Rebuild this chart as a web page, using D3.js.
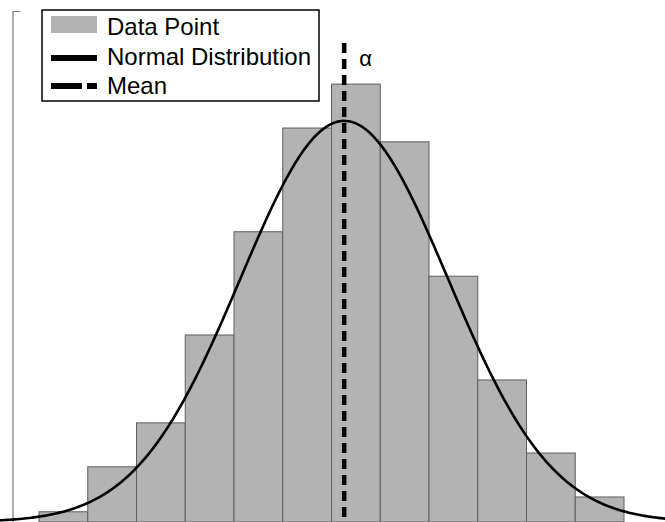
<!DOCTYPE html>
<html>
<head>
<meta charset="utf-8">
<script src="https://cdn.jsdelivr.net/npm/d3@7"></script>
<style>
  html, body { margin: 0; padding: 0; background: #fff; }
  svg { display: block; }
  text { font-family: Arial, "Liberation Sans", sans-serif; }
</style>
</head>
<body>
<svg id="chart" width="665" height="522"></svg>
<script>
// ---- data ----
const binEdges = [-6, -5, -4, -3, -2, -1, 0, 1, 2, 3, 4, 5, 6];
const binCounts = [2, 10.8, 19.4, 36.6, 56.8, 77.1, 85.7, 74.4, 48.1, 27.8, 13.5, 4.9];
const normalMean = 0.26;
const normalSd = 2.13;
const normalPeak = 78.5;
const legendLabels = ["Data Point", "Normal Distribution", "Mean"];
const meanLabel = "α";

// ---- layout ----
const svg = d3.select("#chart");
const x = d3.scaleLinear().domain([-6, 6]).range([39, 624]);
const y = d3.scaleLinear().domain([0, 100]).range([522, 11]);

// y axis (no labels)
const yAxis = d3.axisLeft(y).tickValues([]).tickSizeOuter(-8);
const ag = svg.append("g").attr("transform", "translate(12.5,0)").call(yAxis);
ag.select(".domain").attr("stroke", "#7a7a7a").attr("stroke-width", 1.2);

// bars
const bins = binCounts.map((c, i) => ({ x0: binEdges[i], x1: binEdges[i + 1], c }));
svg.append("g").selectAll("rect").data(bins).join("rect")
  .attr("x", d => x(d.x0))
  .attr("y", d => y(d.c))
  .attr("width", d => x(d.x1) - x(d.x0))
  .attr("height", d => y(0) - y(d.c))
  .attr("fill", "#b3b3b3")
  .attr("stroke", "#5e5e5e")
  .attr("stroke-width", 1);

// normal curve
const xs = d3.range(-7.5, 7.5001, 0.05);
const pts = xs.map(v => [v, normalPeak * Math.exp(-((v - normalMean) ** 2) / (2 * normalSd * normalSd))]);
svg.append("path").datum(pts)
  .attr("fill", "none")
  .attr("stroke", "#000")
  .attr("stroke-width", 2.6)
  .attr("d", d3.line().x(d => x(d[0])).y(d => y(d[1])));

// mean line
svg.append("line")
  .attr("x1", x(normalMean)).attr("x2", x(normalMean))
  .attr("y1", 43).attr("y2", y(0))
  .attr("stroke", "#000")
  .attr("stroke-width", 4.5)
  .attr("stroke-dasharray", "10,6");

svg.append("text")
  .attr("x", x(normalMean) + 15).attr("y", 66)
  .attr("font-size", 22).attr("fill", "#000")
  .text(meanLabel);

// legend
const lg = svg.append("g");
lg.append("rect").attr("x", 42).attr("y", 10).attr("width", 277).attr("height", 91)
  .attr("fill", "#fff").attr("stroke", "#000").attr("stroke-width", 1.5);
lg.append("rect").attr("x", 51).attr("y", 16).attr("width", 46).attr("height", 17).attr("fill", "#b3b3b3");
lg.append("line").attr("x1", 51).attr("x2", 97).attr("y1", 58).attr("y2", 58)
  .attr("stroke", "#000").attr("stroke-width", 6);
lg.append("line").attr("x1", 51).attr("x2", 97).attr("y1", 86).attr("y2", 86)
  .attr("stroke", "#000").attr("stroke-width", 6).attr("stroke-dasharray", "31,5");
lg.selectAll("text.lab").data(legendLabels).join("text")
  .attr("class", "lab")
  .attr("x", 107)
  .attr("y", (d, i) => 35 + i * 29.5)
  .attr("font-size", 24)
  .attr("fill", "#000")
  .text(d => d);
</script>
</body>
</html>
